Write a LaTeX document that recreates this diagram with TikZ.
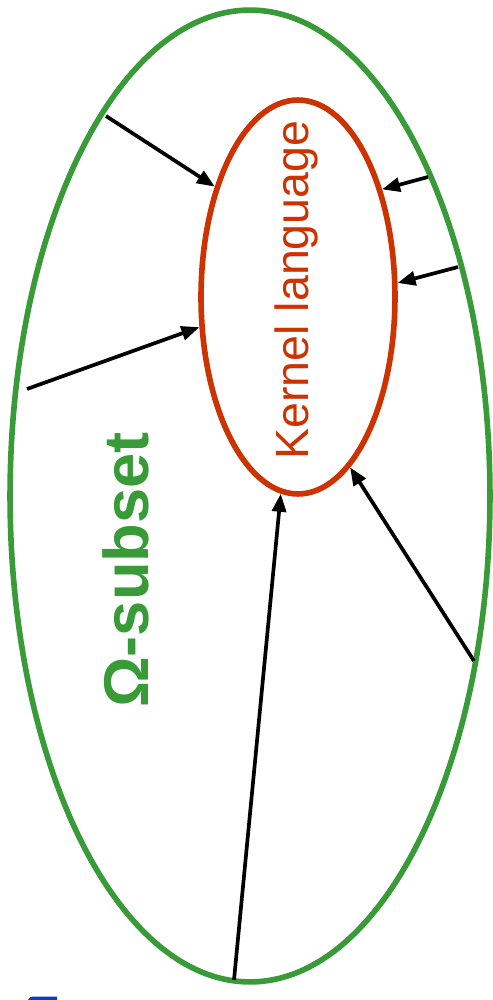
\documentclass[tikz,border=0pt]{standalone}
\usepackage{fontspec}
\setmainfont{Liberation Sans}
\usetikzlibrary{shapes.geometric,arrows.meta}

\definecolor{setgreen}{RGB}{56,155,55}
\definecolor{kernred}{RGB}{204,51,0}
\definecolor{headblue}{RGB}{10,60,200}

\begin{document}
\begin{tikzpicture}[x=0.02cm,y=-0.02cm,
	ring/.style={ellipse, draw, line width=3.2pt, inner sep=0pt, outer sep=0pt},
	into/.style={-{Triangle[length=0.36cm,width=0.28cm]}, line width=2.1pt}]
	\useasboundingbox (0,0) rectangle (493,1000);
	% the two sets
	\node[ring, draw=setgreen, minimum width=9.6cm, minimum height=19.44cm] (omega) at (250,496) {};
	\node[ring, draw=kernred, minimum width=3.88cm, minimum height=7.88cm, outer sep=1.6pt] (kernel) at (298,297) {};
	\node[kernred, rotate=90, anchor=base, inner sep=0pt, font=\fontsize{26.5}{30}\selectfont] (kl) at (308,290) {Kernel language};
	\node[setgreen, rotate=90, anchor=base, inner sep=0pt, font=\fontsize{36}{40}\selectfont\bfseries] (os) at (148,570) {Ω-subset};
	% where the translations start
	\coordinate (s1) at (106,116);
	\coordinate (s2) at (27,389);
	\coordinate (s3) at (428,177);
	\coordinate (s4) at (458,267);
	\coordinate (s5) at (474,661);
	\coordinate (s6) at (234,980);
	% translations into the kernel
	\draw[into] (s1) -- (kernel.127.1);
	\draw[into] (s2) -- (kernel.197.9);
	\draw[into] (s3) -- (kernel.52.5);
	\draw[into] (s4) -- (kernel.8.7);
	\draw[into] (s5) -- (kernel.-73.9);
	\draw[into] (s6) -- (kernel.265.4);
	% piece of the next heading
	\fill[headblue] (28,1000) .. controls (29,997) and (31,996.5) .. (35,996.5) -- (57,996.5) -- (57,1000) -- cycle;
\end{tikzpicture}
\end{document}
